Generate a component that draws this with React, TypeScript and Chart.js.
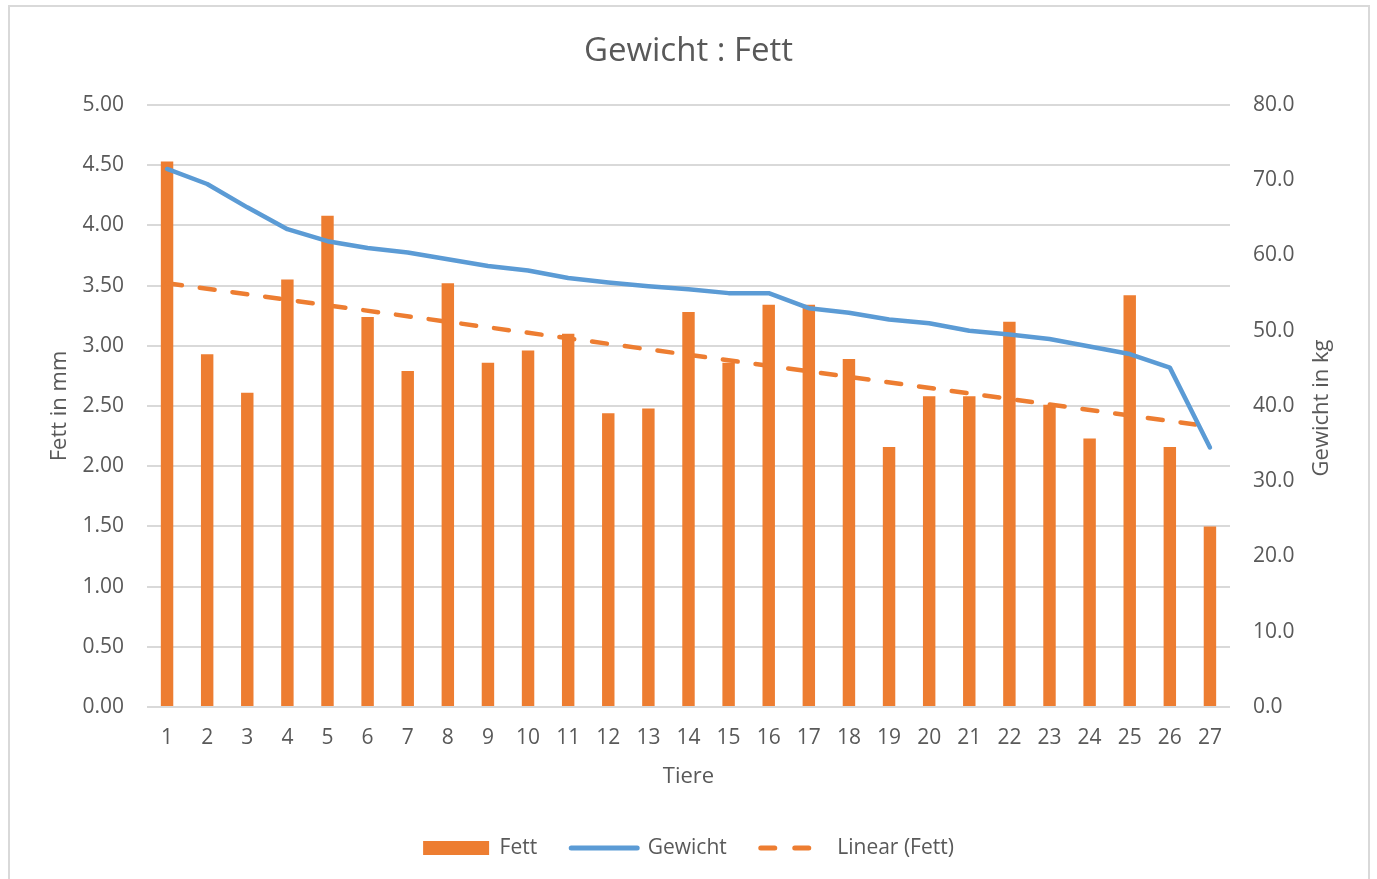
import React, { useEffect, useRef } from "react";
import { Chart, registerables } from "chart.js";

Chart.register(...registerables);

const tiere = ["1","2","3","4","5","6","7","8","9","10","11","12","13","14","15","16","17","18","19","20","21","22","23","24","25","26","27"];
const fett = [4.53, 2.93, 2.61, 3.55, 4.08, 3.24, 2.79, 3.52, 2.86, 2.96, 3.10, 2.44, 2.48, 3.28, 2.86, 3.34, 3.34, 2.89, 2.16, 2.58, 2.58, 3.20, 2.51, 2.23, 3.42, 2.16, 1.50];
const gewicht = [71.5, 69.5, 66.4, 63.5, 61.9, 61.0, 60.4, 59.5, 58.6, 58.0, 57.0, 56.4, 55.9, 55.5, 55.0, 55.0, 53.0, 52.4, 51.5, 51.0, 50.0, 49.5, 48.9, 47.9, 46.9, 45.1, 34.5];
const trendStart = 3.52;
const trendEnd = 2.33;
const rightTitle = "Gewicht in kg";

const ORANGE = "#ED7D31";
const BLUE = "#5B9BD5";
const TEXT = "#595959";
const GRID = "#D9D9D9";
const FONT = "'Open Sans', sans-serif";

const rightTitlePlugin = {
  id: "rightTitle",
  afterDraw(chart: any) {
    const { ctx, chartArea, width } = chart;
    ctx.save();
    ctx.fillStyle = TEXT;
    ctx.font = `22px ${FONT}`;
    ctx.textAlign = "center";
    ctx.textBaseline = "middle";
    ctx.translate(width - 55, (chartArea.top + chartArea.bottom) / 2 + 2);
    ctx.rotate(-Math.PI / 2);
    ctx.fillText(rightTitle, 0, 0);
    ctx.restore();
  },
};

export default function App() {
  const ref = useRef<HTMLCanvasElement | null>(null);
  useEffect(() => {
    if (!ref.current) return;
    const last = tiere.length - 1;
    const trend = tiere.map((_, i) => (i === 0 ? trendStart : i === last ? trendEnd : null));
    const chart = new Chart(ref.current, {
      type: "bar",
      data: {
        labels: tiere,
        datasets: [
          {
            type: "line",
            label: "Gewicht",
            data: gewicht,
            yAxisID: "y1",
            borderColor: BLUE,
            backgroundColor: BLUE,
            borderWidth: 4.5,
            pointRadius: 0,
            tension: 0,
            borderCapStyle: "round",
            borderJoinStyle: "round",
            order: 0,
          } as any,
          {
            type: "line",
            label: "Linear (Fett)",
            data: trend,
            yAxisID: "y",
            borderColor: ORANGE,
            borderWidth: 4.5,
            borderDash: [15, 18],
            borderCapStyle: "round",
            pointRadius: 0,
            spanGaps: true,
            order: 1,
          } as any,
          {
            type: "bar",
            label: "Fett",
            data: fett,
            yAxisID: "y",
            backgroundColor: ORANGE,
            borderWidth: 0,
            barPercentage: 1,
            categoryPercentage: 0.31,
            order: 2,
          } as any,
        ],
      },
      options: {
        animation: false,
        responsive: false,
        maintainAspectRatio: false,
        layout: { padding: { left: 0, right: 0, top: 0, bottom: 10.5 } },
        plugins: {
          title: {
            display: true,
            text: "Gewicht : Fett",
            color: TEXT,
            font: { family: FONT, size: 33, weight: "normal" },
            padding: { top: 32, bottom: 33.4 },
          },
          tooltip: { enabled: false },
          legend: {
            display: true,
            position: "bottom",
            labels: {
              color: TEXT,
              font: { family: FONT, size: 21 },
              padding: 34,
              usePointStyle: true,
              pointStyleWidth: 66,
              boxHeight: 14,
              generateLabels: () => [
                { text: "Fett", fillStyle: ORANGE, strokeStyle: ORANGE, lineWidth: 0, pointStyle: "rect", datasetIndex: 2, fontColor: TEXT } as any,
                { text: "Gewicht", fillStyle: "rgba(0,0,0,0)", strokeStyle: BLUE, lineWidth: 5, lineCap: "round", pointStyle: "line", datasetIndex: 0, fontColor: TEXT } as any,
                { text: "Linear (Fett)", fillStyle: "rgba(0,0,0,0)", strokeStyle: ORANGE, lineWidth: 5, lineCap: "round", lineDash: [14, 20], pointStyle: "line", datasetIndex: 1, fontColor: TEXT } as any,
              ],
            },
          },
        },
        scales: {
          x: {
            grid: { display: false, drawTicks: false },
            border: { display: false },
            ticks: { color: TEXT, font: { family: FONT, size: 21 }, padding: 18, maxRotation: 0, autoSkip: false },
            title: {
              display: true,
              text: "Tiere",
              color: TEXT,
              font: { family: FONT, size: 22 },
              padding: { top: 0, bottom: 13.3 },
            },
            afterFit: (s: any) => { s.height = 96.5; },
          },
          y: {
            position: "left",
            min: 0,
            max: 5,
            grid: { color: GRID, lineWidth: 2, drawTicks: false },
            border: { display: false },
            ticks: {
              stepSize: 0.5,
              color: TEXT,
              font: { family: FONT, size: 21 },
              padding: 23,
              callback: (v: any) => Number(v).toFixed(2),
            },
            title: {
              display: true,
              text: "Fett in mm",
              color: TEXT,
              font: { family: FONT, size: 22 },
              padding: { top: 46.8, bottom: 0 },
            },
            afterFit: (s: any) => { s.width = 147; },
          },
          y1: {
            position: "right",
            min: 0,
            max: 80,
            grid: { display: false, drawTicks: false },
            border: { display: false },
            ticks: {
              stepSize: 10,
              color: TEXT,
              font: { family: FONT, size: 21 },
              padding: 23,
              callback: (v: any) => Number(v).toFixed(1),
            },
            title: { display: false },
            afterFit: (s: any) => { s.width = 147; },
          },
        },
      } as any,
      plugins: [rightTitlePlugin],
    });
    return () => chart.destroy();
  }, []);

  return (
    <div style={{ position: "fixed", left: 0, top: 0, width: 1377, height: 879, overflow: "hidden", background: "#fff" }}>
      <div
        style={{
          position: "absolute",
          left: 8,
          top: 5,
          width: 1362,
          height: 900,
          border: "2px solid #D9D9D9",
          boxSizing: "border-box",
        }}
      />
      <canvas ref={ref} width={1377} height={879} style={{ position: "absolute", left: 0, top: 0, width: 1377, height: 879 }} />
    </div>
  );
}
